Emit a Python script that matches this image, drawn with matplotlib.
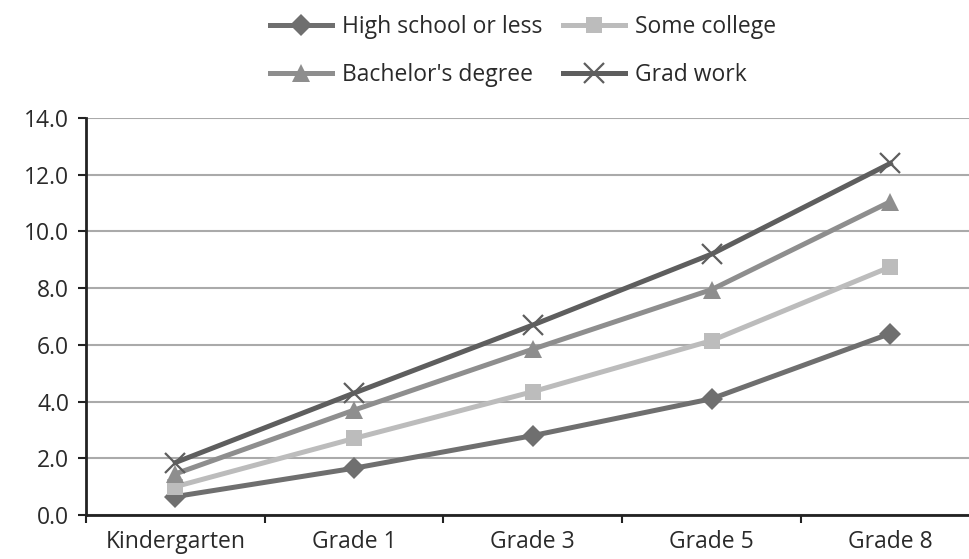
import matplotlib
matplotlib.use("Agg")
import matplotlib.pyplot as plt
from matplotlib.lines import Line2D

plt.rcParams['font.family'] = ['Open Sans', 'DejaVu Sans']

grades = ["Kindergarten", "Grade 1", "Grade 3", "Grade 5", "Grade 8"]
high_school = [0.65, 1.65, 2.8, 4.1, 6.4]
some_college = [1.0, 2.7, 4.35, 6.15, 8.75]
bachelors = [1.45, 3.7, 5.85, 7.95, 11.05]
grad_work = [1.85, 4.3, 6.7, 9.2, 12.4]
y_ticks = [0, 2, 4, 6, 8, 10, 12, 14]

series = [
    ("High school or less", high_school, "#6f6f6f", "D", 11),
    ("Some college", some_college, "#bcbcbc", "s", 12),
    ("Bachelor's degree", bachelors, "#8e8e8e", "^", 13),
    ("Grad work", grad_work, "#5e5e5e", "x", 14),
]

fig = plt.figure(figsize=(9.69, 5.59), dpi=100)
ax = fig.add_axes([86 / 969, (559 - 515) / 559, (969 - 86) / 969, (515 - 118) / 559])

x = list(range(len(grades)))
for name, vals, color, marker, ms in series:
    mew = 1.6 if marker == "x" else 0
    ax.plot(x, vals, color=color, lw=3.6, marker=marker, markersize=ms,
            markerfacecolor=color, markeredgecolor=color, markeredgewidth=mew,
            label=name, zorder=3)

ax.set_ylim(0, 14)
ax.set_yticks(y_ticks)
ax.set_yticklabels([f"{v:.1f}" for v in y_ticks])
ax.set_xlim(-0.5, 4.44)
ax.set_xticks(x)
ax.set_xticklabels(grades)
ax.set_xticks([i + 0.5 for i in range(-1, 4)], minor=True)
ax.tick_params(axis='x', which='major', length=0, pad=11)
ax.tick_params(axis='x', which='minor', length=6, width=1.5, color="#222222")
ax.tick_params(axis='y', length=6, width=1.5, color="#222222", pad=6)
ax.tick_params(labelsize=16.5, labelcolor="#2a2a2a")

ax.grid(axis='y', color="#aaaaaa", lw=1.5, zorder=0)
ax.set_axisbelow(True)
for s in ["top", "right"]:
    ax.spines[s].set_visible(False)
for s in ["left", "bottom"]:
    ax.spines[s].set_linewidth(2)
    ax.spines[s].set_color("#222222")

# legend fills column-wise, so order entries to read row by row
order = [0, 2, 1, 3]
handles, labels = [], []
for i in order:
    name, _, c, m, ms = series[i]
    handles.append(Line2D([0], [0], color=c, lw=3.6, marker=m, markersize=ms,
                          markerfacecolor=c, markeredgecolor=c,
                          markeredgewidth=(1.6 if m == "x" else 0)))
    labels.append(name)
fig.legend(handles, labels, ncol=2, loc="upper center", bbox_to_anchor=(0.54, 1.01),
           frameon=False, fontsize=16.5, labelspacing=1.05, columnspacing=0.9,
           handlelength=2.7, handletextpad=0.45, labelcolor="#2a2a2a")

fig.savefig("out.png", dpi=100, facecolor="white")
